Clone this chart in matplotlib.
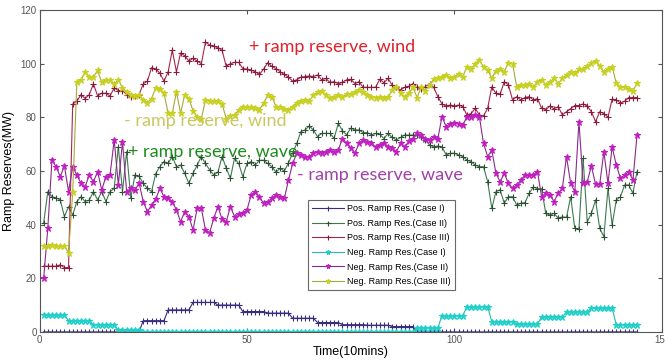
import numpy as np
import matplotlib.pyplot as plt

t = np.arange(1, 145)

# Pos. Ramp Res. (Case I)
pos_case1 = ([0.0] * 24 + [4.2] * 6 + [8.2] * 6 + [11.0] * 6 + [10.0] * 6 + [7.6] * 6
             + [7.0] * 6 + [5.1] * 6 + [3.5] * 6 + [2.7] * 6 + [2.5] * 6 + [2.0] * 6
             + [0.0] * 54)

# Pos. Ramp Res. (Case II)
pos_case2 = [40.6, 52.3, 50.4, 50, 49.2, 43, 46.7, 43.6, 48.6, 50.4, 48.6, 49.2, 52.3, 49.2,
             52.3, 48.6, 52.3, 53.5, 69, 52.3, 67.2, 50, 58.5, 58, 55.4, 53.5, 52.3,
             59, 61.6, 63.5, 62.8, 65.4, 61.6, 62.2, 59.1, 55.4, 59.1, 62.2, 65.4, 62.8, 60.4,
             58.5, 59.6, 65.4, 61, 57.3, 64.8, 62.8, 57.9, 62.8, 63.5, 62.2, 64, 64, 62.8,
             61.6, 59.6,
             61, 60, 63, 66.6, 70.3,
             74.7, 75.3, 76.8, 75.3, 72.8, 74, 74, 74, 72.2, 77.8, 75, 73.5, 76, 75.3, 75.3,
             74.3, 74.3, 73.5, 74, 73.7, 72.1, 74, 72.5, 71.6, 72.5, 73.4,
             73.4, 73.4, 73.4, 72.8, 71.6, 69.7, 69, 69.3, 69,
             66, 66.6, 66.6, 66, 65.4, 64.1, 63.5, 62.2, 61.6, 61.6, 56, 46.1,
             52.3, 53, 48, 50.4, 50.4, 47.3,
             48, 48.2, 51.7, 54, 53.4, 53.4, 44.2, 43.6, 44.2, 42.4, 42.9, 42.7, 50.4, 38.6,
             38.2, 64.7, 41.1, 44.2, 49.2, 38.6, 35.5, 53.5, 39.9, 49.2, 50.4, 54.8, 54.8,
             51.7, 59.8]

# Pos. Ramp Res. (Case III)
pos_case3 = [24.5, 24.5, 24.5, 24.5, 25, 24, 24,
             85, 86, 88.5, 87, 88.5, 92.5, 88, 89, 89, 88, 91, 90, 90, 88.5, 87.5, 88, 88.5,
             92.5, 93.5, 98.5, 98, 96.5, 93.5, 97, 105, 97, 104, 103, 101, 102, 101, 100,
             108, 107, 106.5, 106, 105, 99, 100, 100.5,
             100.5, 98.2, 98, 97.6, 97, 96, 98, 100.4, 99, 98.2, 97, 96, 95,
             93.5, 94, 95, 95.2, 95.4, 95.2, 95.8, 94, 94.5, 93, 93.3, 92.6, 93, 94, 94.2,
             92.6, 93.3, 91.2, 91.2, 91.2,
             91.2, 94.2, 92.9, 94.5, 92, 91.2, 90.2, 91.2, 91.6, 92.6, 91.2, 90.5, 91.5,
             92.6, 91.2,
             87.7, 85, 84.2, 84.6, 84.2, 84.6, 84, 80.9, 81.4, 83.4, 80.9, 80.5, 83.4, 91.4,
             88.9, 88.6, 93.3, 92.1, 86.5, 87.7, 86.5, 87.4, 87.7, 86.5, 87, 83.4, 82.9,
             84.2, 83.2, 84, 80.9, 82.1, 83.2, 84.4, 84.4, 85, 84.2, 82.1, 78.4, 82.1, 81.4,
             80.1, 86.8, 86.5, 85.3, 86, 87.4, 87.4, 87.4]

# Neg. Ramp Res. (Case I)
neg_case1 = ([6.3] * 6 + [4.2] * 6 + [2.6] * 6 + [0.7] * 6 + [0.0] * 66 + [1.5] * 6
             + [6.1] * 6 + [9.4] * 6 + [3.8] * 6 + [3.0] * 6 + [5.5] * 6 + [7.6] * 6
             + [8.8] * 6 + [2.6] * 6)

# Neg. Ramp Res. (Case II)
neg_case2 = [20, 38.6, 64, 61.6, 57.9, 61.9, 52.3, 61.6, 58.5, 55.4, 54.2, 58.5, 56, 59.8,
             52.9, 57.9, 58.5, 71.6, 54.8, 70.9, 52.3, 53.5, 52.9, 55.4, 48.6, 44.8, 47.3,
             49.5, 53.5, 50.4, 49.8, 48.6, 45.5, 41.1, 44.8, 43, 38, 46.1, 46.1, 38, 37,
             42.4, 46.7, 42, 41.1, 46.7, 43, 44, 44.2, 45.5, 51, 52.3, 50.4, 47.9, 48.6,
             49.8, 51, 50.4, 49.8, 56.6, 62.8, 66.6, 66, 65.4, 65.4, 66.6, 67.2, 66.8, 67.2,
             67.8, 67.2, 67.8, 72.1, 70.3, 68.5, 66.6, 70.3, 71.6, 70.9, 70.3, 69, 69.7,
             70.5, 69, 68.5, 67.2, 70.3, 69, 71, 72.1, 74, 73.4, 72.1, 71.6, 72.8, 72.1,
             80.3, 76.5, 77.7, 78, 77.7, 77, 80.3, 80.3, 81, 80.3, 70.3, 65.4, 67.8, 59.1,
             56, 59.1, 55.4, 53.5, 54.8,
             56.5, 58.5, 58.5, 58.5, 59.8, 50.4, 51.7, 51, 48.6, 51.7, 53.5, 65.4, 55.4,
             52.3, 78.4, 55.4, 56, 61.9, 55, 55, 67.2, 55.4, 69, 62.2, 57.3, 58.5, 59.8,
             56.6, 73.4]

# Neg. Ramp Res. (Case III)
neg_case3 = [32, 32, 32.5, 32, 32, 32, 29.5, 52,
             93, 94, 97, 95, 95, 97.5, 93, 94, 94, 92.5, 94, 91, 89.5, 88.5, 88, 88.5, 86.5,
             85.5, 87, 91, 90.5, 89, 81.5, 81.5, 89.5, 81.5, 88.5, 87, 82.5, 80, 79.5, 86.5,
             86, 86, 86, 85, 79.5, 80.5, 81,
             82.7, 84, 84, 84, 83.4, 82.9, 85.3, 88.3, 87.7, 84, 84, 83, 82.9, 84, 85.3, 86,
             86.5, 86, 88.3, 89.3, 89.7, 88.3, 87.1, 87.5, 88.3, 87.7, 88.6, 88.6, 89.3,
             90.2, 89.3, 88.5, 87.7, 87.4, 87.7, 87.4, 87.5, 90.2, 91.4, 89, 87.7, 89, 91.2,
             87.4, 91.4, 89.9, 92.1, 94.2, 94.5, 95.2, 95.8, 94.5, 95.2, 96.2, 95.2, 98.9,
             98.2, 99.9, 101.4, 98.8, 97.6, 94.6, 97.4, 97.9, 97, 100.4, 100, 91.4, 92.1,
             92.1, 92.6, 91.2, 93.3, 94, 92.1, 93.3, 94.5, 92.6, 94.5, 95.8, 97, 96.4, 97.9,
             98.2, 99, 100.1, 101.2, 99, 97, 98.2, 98.9, 92.7, 91.2, 91.2, 90.4, 89.9, 92.7]

series = [
    (pos_case1, "#3b2d7e", "+", "#3b2d7e", "Pos. Ramp Res.(Case I)"),
    (pos_case2, "#3f7a52", "+", "#2f4f35", "Pos. Ramp Res.(Case II)"),
    (pos_case3, "#a8284c", "+", "#8a1a3c", "Pos. Ramp Res.(Case III)"),
    (neg_case1, "#28b8b0", "*", "#20d0c8", "Neg. Ramp Res.(Case I)"),
    (neg_case2, "#8a2a8a", "*", "#c020c0", "Neg. Ramp Res.(Case II)"),
    (neg_case3, "#a8a83a", "*", "#c8d020", "Neg. Ramp Res.(Case III)"),
]

plt.rcParams['font.family'] = ['Liberation Sans', 'DejaVu Sans']

fig = plt.figure(figsize=(6.65, 3.6), dpi=100)
ax = fig.add_axes([0.0594, 0.078, 0.936, 0.894])

for vals, lc, mk, mc, lab in series:
    ax.plot(t, vals, color=lc, lw=0.8, marker=mk, ms=4.5, mec=mc, mfc=mc,
            mew=0.8, label=lab)

ax.set_xlim(0, 150)
ax.set_ylim(0, 120)
ax.set_xticks([0, 50, 100, 150])
ax.set_yticks(range(0, 121, 20))
ax.tick_params(labelsize=7, labelcolor="#555555", color="#555555", length=3,
               direction="in", top=True, right=True, pad=2)
for s in ax.spines.values():
    s.set_color("#555555")

ax.set_xlabel("Time(10mins)", fontsize=9, labelpad=1)
ax.set_ylabel("Ramp Reserves(MW)", fontsize=9, labelpad=4)

ann = dict(family=['Lato', 'DejaVu Sans'], fontsize=13, va="center")
ax.text(50.6, 106.2, "+ ramp reserve, wind", color="#e0202c", **ann)
ax.text(20.3, 78.6, "- ramp reserve, wind", color="#c8c860", **ann)
ax.text(21.3, 67.0, "+ ramp reserve, wave", color="#1c8c1c", **ann)
ax.text(62.1, 58.5, "- ramp reserve, wave", color="#a040a8", **ann)

leg = ax.legend(loc="upper left", bbox_to_anchor=(0.428, 0.415), fontsize=6.5,
                frameon=True, fancybox=False, edgecolor="#444444",
                borderpad=0.45, labelspacing=0.62, handlelength=3.6,
                handletextpad=0.3, markerscale=0.8, borderaxespad=0.2)
leg.get_frame().set_linewidth(0.8)

fig.savefig("out.png", dpi=100)
plt.close(fig)
